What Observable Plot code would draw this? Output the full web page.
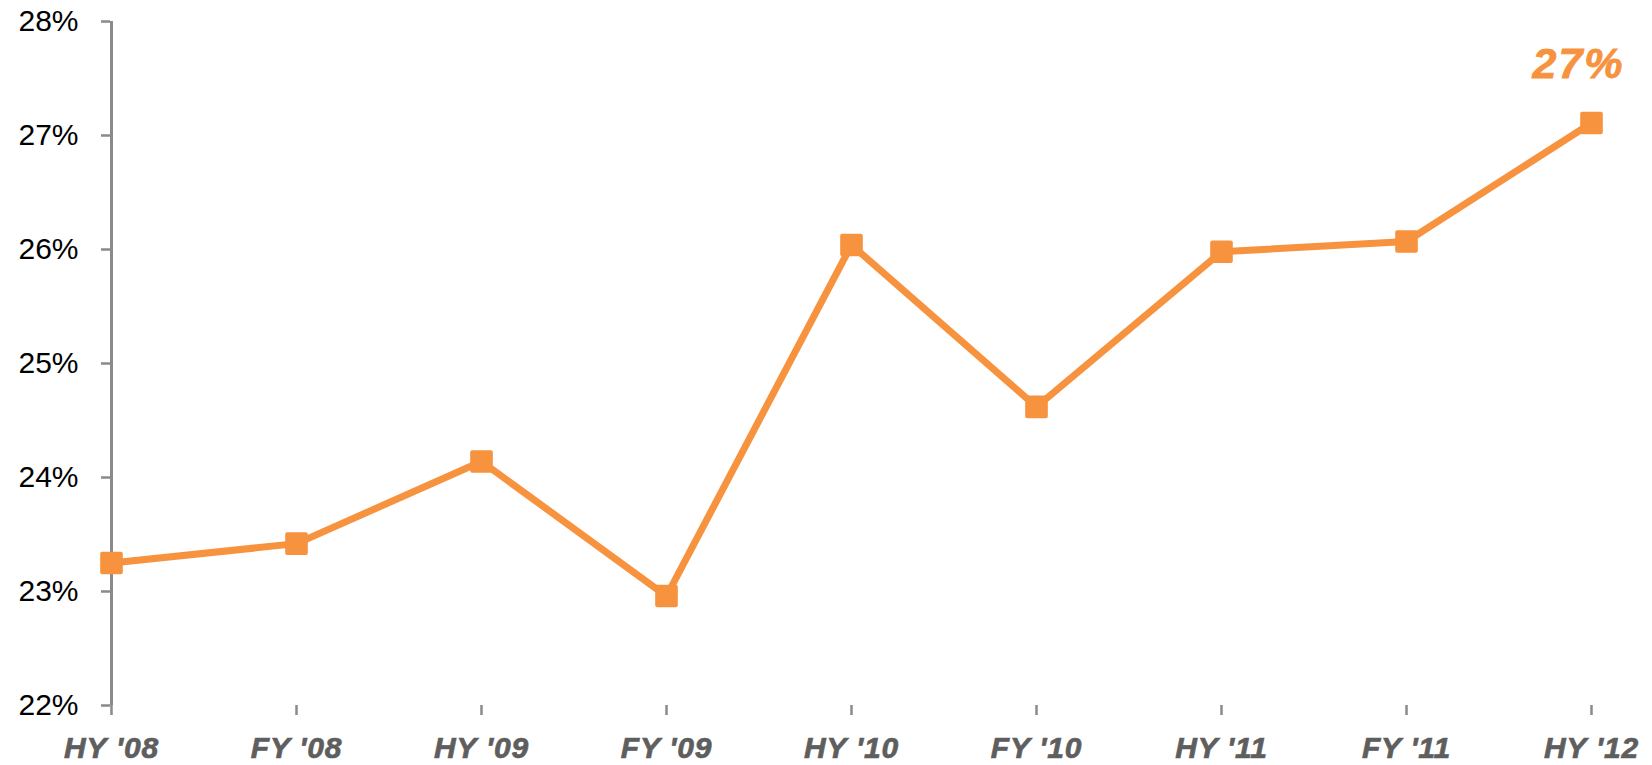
<!DOCTYPE html>
<html>
<head>
<meta charset="utf-8">
<script src="https://cdn.jsdelivr.net/npm/d3@7"></script>
<script src="https://cdn.jsdelivr.net/npm/@observablehq/plot@0.6"></script>
<style>
  html, body { margin: 0; padding: 0; background: #fff; }
  #chart svg { display: block; }
  .xax text { font-weight: bold; font-style: italic; letter-spacing: 0.8px; stroke: #5e5e5e; stroke-width: 0.7px; }
  .lbl text { letter-spacing: 2px; stroke: #f7923e; stroke-width: 0.8px; }
</style>
</head>
<body>
<div id="chart"></div>
<script>
const periods = ["HY '08", "FY '08", "HY '09", "FY '09", "HY '10", "FY '10", "HY '11", "FY '11", "HY '12"];
const values = [23.25, 23.42, 24.14, 22.96, 26.04, 24.62, 25.98, 26.07, 27.11];
const yTicks = [22, 23, 24, 25, 26, 27, 28];

const data = periods.map((p, i) => ({period: p, value: values[i]}));
const last = [data[data.length - 1]];
const orange = "#f7923e";
const axisGray = "#8a8a8a";

const chart = Plot.plot({
  width: 1652,
  height: 765,
  marginLeft: 110,
  marginRight: 61,
  marginTop: 21,
  marginBottom: 60,
  style: {fontFamily: "'Liberation Sans', Arial, sans-serif", background: "#fff"},
  x: {type: "point", domain: periods, padding: 0},
  y: {domain: [22, 28]},
  marks: [
    Plot.axisY({
      ticks: yTicks, tickFormat: d => d + "%", tickSize: 9, tickPadding: 23,
      stroke: axisGray, strokeWidth: 2.5, strokeOpacity: 1,
      fontSize: 30, fill: "#000", label: null
    }),
    Plot.axisX({
      tickSize: 10, tickPadding: 21, stroke: axisGray, strokeWidth: 2.5, strokeOpacity: 1,
      fontSize: 30, fill: "#5e5e5e", label: null, className: "xax"
    }),
    Plot.ruleX([periods[0]], {y1: 22, y2: 28, stroke: axisGray, strokeWidth: 3}),
    Plot.ruleY([22], {x1: periods[0], x2: periods[periods.length - 1], stroke: axisGray, strokeWidth: 3}),
    Plot.line(data, {x: "period", y: "value", stroke: orange, strokeWidth: 7, strokeLinejoin: "round"}),
    Plot.dot(data, {x: "period", y: "value", symbol: "square", r: 10.5, fill: orange, stroke: orange, strokeWidth: 4, strokeLinejoin: "round"}),
    Plot.text(last, {
      x: "period", y: "value", text: d => Math.round(d.value) + "%",
      dx: -13, dy: -59, fill: orange, fontSize: 43, fontWeight: "bold", fontStyle: "italic",
      textAnchor: "middle", className: "lbl"
    })
  ]
});
document.getElementById("chart").appendChild(chart);
</script>
</body>
</html>
